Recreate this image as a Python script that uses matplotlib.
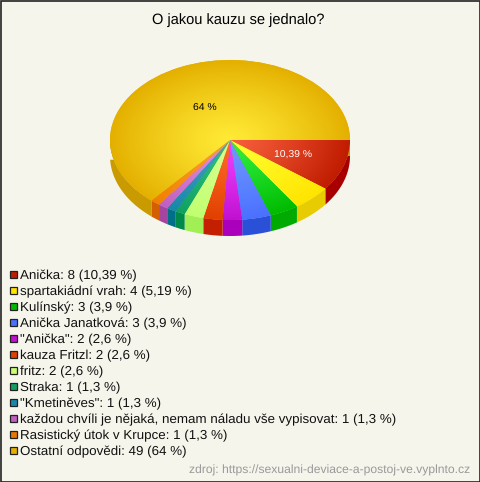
#!/usr/bin/env python

import numpy as np
from matplotlib import pyplot as plt
from matplotlib import colors as mcolors
from matplotlib.patches import Rectangle

plt.rcParams['font.family'] = ['Liberation Sans', 'DejaVu Sans']
plt.rcParams['text.hinting'] = 'no_hinting'

title = "O jakou kauzu se jednalo?"
source = "zdroj: https://sexualni-deviace-a-postoj-ve.vyplnto.cz"

names = ['Anička', 'spartakiádní vrah', 'Kulínský', 'Anička Janatková', '"Anička"',
         'kauza Fritzl', 'fritz', 'Straka', '"Kmetiněves"',
         'každou chvíli je nějaká, nemam náladu vše vypisovat',
         'Rasistický útok v Krupce', 'Ostatní odpovědi']
counts = [8, 4, 3, 3, 2, 2, 2, 1, 1, 1, 1, 49]
percents = ['10,39', '5,19', '3,9', '3,9', '2,6', '2,6', '2,6', '1,3', '1,3', '1,3', '1,3', '64']

center_colors = ['#f85f3c', '#ffff30', '#30f040', '#7098ff', '#f040ff', '#ff6a28',
                 '#d8ff90', '#30c080', '#40a0c0', '#e090e0', '#ffa030', '#ffea35']
rim_colors = ['#c01c00', '#ffe400', '#00bb00', '#4a70ff', '#c010d0', '#e04000',
              '#c0ff70', '#10a060', '#1888a8', '#c060c0', '#f08000', '#e4b000']
side_colors = ['#a80000', '#e6cc00', '#00aa00', '#2b50d8', '#aa00bb', '#c41f00',
               '#a2ee55', '#008a4a', '#006f88', '#a545a0', '#d45f00', '#c99b00']
swatch_colors = ['#c01c00', '#ffe400', '#00bb00', '#4a70ff', '#c010d0', '#e04000',
                 '#c8ff70', '#10a060', '#1888a8', '#c060c0', '#e87800', '#e4b000']

W, H = 480, 482
bg = '#f5f5ec'

fig = plt.figure(figsize=(W / 100, H / 100), dpi=100, facecolor=bg)

# page layer in pixel coordinates
page = fig.add_axes([0, 0, 1, 1])
page.set_xlim(0, W)
page.set_ylim(H, 0)
page.axis('off')
page.add_patch(Rectangle((0.5, 0.5), W - 1, H - 1, fc='none', ec='#222222', lw=1.2))
page.text(238, 20, title, ha='center', va='center', fontsize=10.5, color='black')

for i, name in enumerate(names):
    y = 274 + 16 * i
    page.add_patch(Rectangle((9.5, y - 3.5), 7.5, 7.5, fc=swatch_colors[i], ec='#222222', lw=0.9))
    page.text(20, y + 5, '%s: %d (%s %%)' % (name, counts[i], percents[i]),
              ha='left', va='baseline', fontsize=9.6, color='#111111')

page.text(470, 474, source, ha='right', va='baseline', fontsize=8.73, color='#999999')

# pie layer, stretched so the circle becomes the ellipse
x0, x1, y0, y1 = 110, 350, 60, 220
ax = fig.add_axes([x0 / W, 1 - y1 / H, (x1 - x0) / W, (y1 - y0) / H])
ax.patch.set_alpha(0)

wedges, _ = ax.pie(counts, startangle=0, counterclock=False, radius=1,
                   colors=rim_colors, wedgeprops={'linewidth': 0})
ax.set_aspect('auto')

depth = 16 / ((y1 - y0) / 2)

yy, xx = np.mgrid[-1:1:400j, -1:1:400j]
r = np.clip(np.hypot(xx, yy), 0, 1)[..., None] ** 1.2

for i, w in enumerate(wedges):
    # side wall, only the part facing the viewer
    t1, t2 = sorted((w.theta1, w.theta2))
    t = np.radians(np.linspace(t1, t2, 80))
    t = t[np.sin(t) <= 0]
    if len(t) > 1:
        xs = np.cos(t)
        ys = np.sin(t)
        ax.fill(np.r_[xs, xs[::-1]], np.r_[ys, ys[::-1] - depth],
                color=side_colors[i], lw=0, clip_on=False, zorder=1)

    # radial shading on the top face
    c0 = np.array(mcolors.to_rgb(center_colors[i]))
    c1 = np.array(mcolors.to_rgb(rim_colors[i]))
    img = c0 * (1 - r) + c1 * r
    im = ax.imshow(img, extent=(-1, 1, -1, 1), origin='lower', aspect='auto', zorder=2)
    im.set_clip_path(w)

ax.set_xlim(-1, 1)
ax.set_ylim(-1, 1)

page.set_zorder(0)
ax.set_zorder(1)

fig.text(205 / W, 1 - 108 / H, percents[-1] + ' %', ha='center', va='center',
         fontsize=7.5, color='black', zorder=5)
fig.text(293 / W, 1 - 155 / H, percents[0] + ' %', ha='center', va='center',
         fontsize=7.5, color='white', zorder=5)

plt.savefig('out.png', dpi=100, facecolor=bg)
